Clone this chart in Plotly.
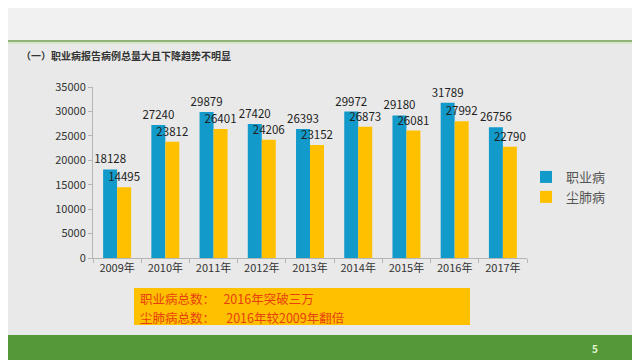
import plotly.graph_objects as go

years = ["2009年", "2010年", "2011年", "2012年", "2013年", "2014年", "2015年", "2016年", "2017年"]
occupational = [18128, 27240, 29879, 27420, 26393, 29972, 29180, 31789, 26756]
pneumoconiosis = [14495, 23812, 26401, 24206, 23152, 26873, 26081, 27992, 22790]
series_names = ["职业病", "尘肺病"]
title_text = "（一）职业病报告病例总量大且下降趋势不明显"
note_lines = ["职业病总数：   2016年突破三万", "尘肺病总数：    2016年较2009年翻倍"]
page_no = "5"

W, H = 640, 360
OFF = 8  # page body margin offset of the rendered figure
# plot area in screen pixels
SL, SR, ST, SB = 93, 527, 87, 258
L, R, T, B = SL - OFF, SR - OFF, ST - OFF, SB - OFF
FONT = "Noto Sans CJK SC, Open Sans, sans-serif"


def px(x):
    return (x - SL) / (SR - SL)


def py(y):
    return (SB - y) / (SB - ST)


fig = go.Figure()
fig.add_trace(go.Bar(
    x=years, y=occupational, name=series_names[0],
    marker=dict(color="#129ACB", line=dict(width=0)),
    text=[str(v) for v in occupational], textposition="outside", constraintext="none",
    textfont=dict(size=11.5, color="#222222", family=FONT), cliponaxis=False,
))
fig.add_trace(go.Bar(
    x=years, y=pneumoconiosis, name=series_names[1],
    marker=dict(color="#FFC000", line=dict(width=0)),
    text=[str(v) for v in pneumoconiosis], textposition="outside", constraintext="none",
    textfont=dict(size=11.5, color="#222222", family=FONT), cliponaxis=False,
))

shapes = [
    dict(type="rect", xref="paper", yref="paper", x0=px(-20), x1=px(W + 20), y0=py(335), y1=py(43),
         fillcolor="#e9e9e9", line=dict(width=0), layer="below"),
    dict(type="line", xref="paper", yref="paper", x0=px(-20), x1=px(W + 20), y0=py(41), y1=py(41),
         line=dict(color="#6E9E4E", width=1.5)),
    dict(type="line", xref="paper", yref="paper", x0=px(-20), x1=px(W + 20), y0=py(43), y1=py(43),
         line=dict(color="#cfe3c0", width=1.5)),
    dict(type="rect", xref="paper", yref="paper", x0=px(-20), x1=px(W + 20), y0=py(H + 20), y1=py(335),
         fillcolor="#55983A", line=dict(width=0), layer="below"),
    dict(type="rect", xref="paper", yref="paper", x0=px(134), x1=px(470), y0=py(325), y1=py(288),
         fillcolor="#FFC000", line=dict(width=0), layer="above"),
]

annotations = [
    dict(text="<b>" + title_text + "</b>", xref="paper", yref="paper", x=px(19), y=py(55),
         xanchor="left", yanchor="middle", showarrow=False,
         font=dict(size=10, color="#333333", family=FONT)),
    dict(text=note_lines[0], xref="paper", yref="paper", x=px(138), y=py(298),
         xanchor="left", yanchor="middle", align="left", showarrow=False,
         font=dict(size=12.5, color="#E8400C", family=FONT)),
    dict(text=note_lines[1], xref="paper", yref="paper", x=px(138), y=py(317),
         xanchor="left", yanchor="middle", align="left", showarrow=False,
         font=dict(size=12.5, color="#E8400C", family=FONT)),
    dict(text="<b>" + page_no + "</b>", xref="paper", yref="paper", x=px(595), y=py(348),
         xanchor="center", yanchor="middle", showarrow=False,
         font=dict(size=10, color="#e4f5d4", family=FONT)),
]

fig.update_layout(
    width=W, height=H,
    margin=dict(l=L, r=W - R, t=T, b=H - B, pad=0),
    paper_bgcolor="#f1f1f1", plot_bgcolor="rgba(0,0,0,0)",
    barmode="group", bargap=0.42, bargroupgap=0,
    font=dict(family=FONT, color="#333333"),
    showlegend=True,
    legend=dict(x=px(526), y=py(187), xanchor="left", yanchor="middle",
                font=dict(size=13, color="#555555", family=FONT),
                bgcolor="rgba(0,0,0,0)", itemwidth=30, tracegroupgap=0),
    shapes=shapes, annotations=annotations,
    xaxis=dict(type="category", showgrid=False, showline=True, linecolor="#b5b5b5", linewidth=1,
               ticks="outside", tickson="boundaries", ticklen=4, tickcolor="#b5b5b5",
               tickfont=dict(size=11, color="#333333", family=FONT)),
    yaxis=dict(range=[0, 35000], dtick=5000, tickformat="d", showgrid=False, showline=True,
               linecolor="#b5b5b5", linewidth=1, ticks="outside", ticklen=4, tickcolor="#b5b5b5",
               zeroline=False, tickfont=dict(size=11, color="#333333", family=FONT)),
)

fig.write_html("out.html")
